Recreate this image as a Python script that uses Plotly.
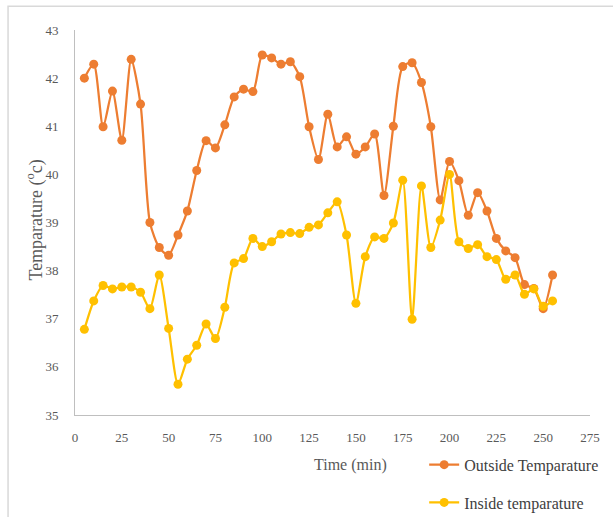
import plotly.graph_objects as go

# Sampling times (minutes)
time_min = [5, 10, 15, 20, 25, 30, 35, 40, 45, 50, 55, 60, 65, 70, 75, 80, 85, 90, 95, 100,
            105, 110, 115, 120, 125, 130, 135, 140, 145, 150, 155, 160, 165, 170, 175, 180,
            185, 190, 195, 200, 205, 210, 215, 220, 225, 230, 235, 240, 245, 250, 255]

outside_temp = [42.00, 42.29, 40.99, 41.73, 40.71, 42.39, 41.46, 39.00, 38.48, 38.32, 38.74,
                39.24, 40.08, 40.70, 40.55, 41.03, 41.61, 41.77, 41.72, 42.48, 42.42, 42.29,
                42.34, 42.03, 40.99, 40.31, 41.25, 40.57, 40.78, 40.42, 40.57, 40.84, 39.56,
                41.00, 42.24, 42.32, 41.91, 40.99, 39.47, 40.27, 39.87, 39.15, 39.62, 39.24,
                38.67, 38.41, 38.27, 37.71, 37.63, 37.21, 37.91]

inside_temp = [36.78, 37.37, 37.69, 37.62, 37.66, 37.66, 37.55, 37.21, 37.91, 36.80, 35.64,
               36.16, 36.45, 36.89, 36.59, 37.24, 38.16, 38.25, 38.67, 38.50, 38.60, 38.76,
               38.79, 38.77, 38.90, 38.95, 39.20, 39.43, 38.74, 37.32, 38.29, 38.70, 38.67,
               38.99, 39.88, 36.99, 39.76, 38.48, 39.05, 40.00, 38.60, 38.46, 38.54, 38.29,
               38.23, 37.82, 37.91, 37.51, 37.62, 37.26, 37.37]

series_names = ["Outside Temparature", "Inside temparature"]
series_colors = ["#ED7D31", "#FFC000"]

x_ticks = list(range(0, 276, 25))
y_ticks = list(range(35, 44))

SERIF = "Liberation Serif, Times New Roman, serif"

fig = go.Figure()
for i, (name, vals, col) in enumerate(zip(series_names, [outside_temp, inside_temp], series_colors)):
    fig.add_trace(go.Scatter(
        x=time_min, y=vals, name=name, mode="lines+markers",
        line=dict(color=col, width=2.25, shape="spline", smoothing=0.7),
        marker=dict(color=col, size=9),
        legendgroup=f"g{i}",
    ))

fig.update_layout(
    width=613, height=517,
    margin=dict(l=75, r=23, t=30, b=102, autoexpand=False),
    paper_bgcolor="white", plot_bgcolor="white",
    showlegend=True,
    legend=dict(
        x=0.678, y=-0.085, xanchor="left", yanchor="top",
        orientation="v", tracegroupgap=14, itemwidth=30,
        font=dict(family=SERIF, size=16, color="#404040"),
        bgcolor="rgba(0,0,0,0)",
    ),
    xaxis=dict(
        range=[0, 275], tickmode="array", tickvals=x_ticks,
        showgrid=False, zeroline=False, showline=True,
        linecolor="#BFBFBF", linewidth=1, ticks="", ticklabelstandoff=10,
        tickfont=dict(family=SERIF, size=13, color="#595959"),
    ),
    yaxis=dict(
        range=[35, 43], tickmode="array", tickvals=y_ticks,
        showgrid=False, zeroline=False, showline=True,
        linecolor="#BFBFBF", linewidth=1, ticks="", ticklabelstandoff=13,
        tickfont=dict(family=SERIF, size=13, color="#595959"),
    ),
    annotations=[
        dict(text="Time (min)", xref="paper", yref="paper",
             x=0.535, y=-0.13, xanchor="center", yanchor="middle", showarrow=False,
             font=dict(family=SERIF, size=16, color="#595959")),
        dict(text="Temparature (<sup>o</sup>c)", xref="paper", yref="paper",
             x=-0.0776, y=0.505, xanchor="center", yanchor="middle", showarrow=False,
             textangle=-90, font=dict(family=SERIF, size=18, color="#595959")),
    ],
    shapes=[dict(
        type="rect", xref="paper", yref="paper",
        x0=-0.130, x1=1.2, y0=-0.5, y1=1.062,
        line=dict(color="#D9D9D9", width=1.5), layer="below",
    )],
)

fig.write_html("out.html")
